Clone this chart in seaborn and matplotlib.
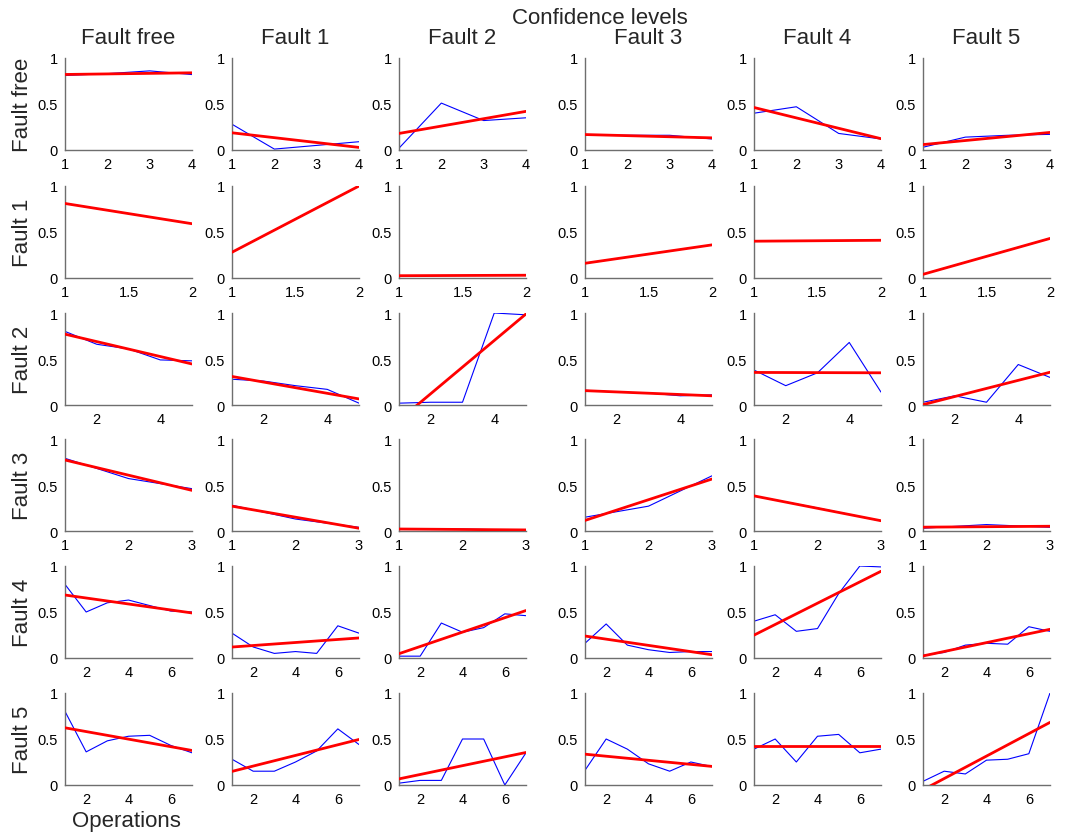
import matplotlib
matplotlib.use("Agg")
import matplotlib.pyplot as plt
import seaborn as sns
import numpy as np
import pandas as pd

sns.set_style("white")
plt.rcParams['font.family'] = ['Liberation Sans', 'DejaVu Sans']

col_names = ["Fault free", "Fault 1", "Fault 2", "Fault 3", "Fault 4", "Fault 5"]
row_names = ["Fault free", "Fault 1", "Fault 2", "Fault 3", "Fault 4", "Fault 5"]

# confidence levels per operation: rows = true condition, columns = class
row_fault_free = [
    [0.81, 0.83, 0.86, 0.82],
    [0.28, 0.01, 0.05, 0.09],
    [0.02, 0.51, 0.32, 0.35],
    [0.16, 0.16, 0.16, 0.12],
    [0.40, 0.47, 0.18, 0.12],
    [0.03, 0.14, 0.16, 0.17],
]
row_fault1 = [
    [0.81, 0.59],
    [0.28, 1.00],
    [0.025, 0.03],
    [0.16, 0.36],
    [0.40, 0.41],
    [0.04, 0.43],
]
row_fault2 = [
    [0.80, 0.66, 0.61, 0.49, 0.48],
    [0.28, 0.26, 0.21, 0.17, 0.02],
    [0.02, 0.03, 0.03, 1.00, 0.98],
    [0.16, 0.14, 0.13, 0.10, 0.11],
    [0.38, 0.21, 0.35, 0.68, 0.14],
    [0.03, 0.10, 0.03, 0.44, 0.30],
]
row_fault3 = [
    [0.79, 0.57, 0.46],
    [0.28, 0.13, 0.04],
    [0.02, 0.02, 0.01],
    [0.15, 0.27, 0.60],
    [0.38, 0.25, 0.11],
    [0.03, 0.07, 0.04],
]
row_fault4 = [
    [0.80, 0.50, 0.60, 0.63, 0.57, 0.51, 0.50],
    [0.27, 0.12, 0.05, 0.07, 0.05, 0.35, 0.27],
    [0.02, 0.02, 0.38, 0.28, 0.33, 0.48, 0.46],
    [0.16, 0.37, 0.14, 0.09, 0.06, 0.07, 0.07],
    [0.40, 0.47, 0.29, 0.32, 0.70, 1.00, 0.99],
    [0.03, 0.06, 0.14, 0.16, 0.15, 0.34, 0.29],
]
row_fault5 = [
    [0.80, 0.36, 0.48, 0.53, 0.54, 0.43, 0.35],
    [0.28, 0.15, 0.15, 0.25, 0.37, 0.61, 0.44],
    [0.02, 0.05, 0.05, 0.50, 0.50, 0.00, 0.35],
    [0.16, 0.50, 0.39, 0.23, 0.15, 0.25, 0.20],
    [0.39, 0.50, 0.25, 0.53, 0.55, 0.35, 0.39],
    [0.04, 0.15, 0.12, 0.27, 0.28, 0.34, 1.00],
]
rows_data = [row_fault_free, row_fault1, row_fault2, row_fault3, row_fault4, row_fault5]

x_ticks = [[1, 2, 3, 4], [1, 1.5, 2], [2, 4], [1, 2, 3], [2, 4, 6], [2, 4, 6]]
x_ticklabels = [["1", "2", "3", "4"], ["1", "1.5", "2"], ["2", "4"], ["1", "2", "3"],
                ["2", "4", "6"], ["2", "4", "6"]]
y_ticks = [0, 0.5, 1]
y_ticklabels = ["0", "0.5", "1"]

W, H = 1066, 837
fig = plt.figure(figsize=(W / 100, H / 100), dpi=100)

col_left = [65, 232, 399, 585, 754, 923]
row_top = [59, 187, 314, 440, 567, 694]
aw, ah = 127, 92
spine_col = "#6e6e6e"

for r in range(6):
    for c in range(6):
        L, T = col_left[c], row_top[r]
        ax = fig.add_axes([L / W, 1 - (T + ah) / H, aw / W, ah / H])
        y = rows_data[r][c]
        x = np.arange(1, len(y) + 1)
        df = pd.DataFrame({"x": x, "y": y})
        sns.lineplot(data=df, x="x", y="y", ax=ax, color="#0000ff", lw=0.8,
                     estimator=None, zorder=2)
        sns.regplot(data=df, x="x", y="y", ax=ax, scatter=False, ci=None,
                    color="#ff0000", line_kws={"lw": 2.0, "zorder": 3})
        ax.set_xlim(1, len(y))
        ax.set_ylim(0, 1)
        ax.set_xticks(x_ticks[r])
        ax.set_xticklabels(x_ticklabels[r])
        ax.set_yticks(y_ticks)
        ax.set_yticklabels(y_ticklabels)
        ax.set_xlabel("")
        ax.set_ylabel("")
        for s in ["top", "right"]:
            ax.spines[s].set_visible(False)
        for s in ["left", "bottom"]:
            ax.spines[s].set_color(spine_col)
            ax.spines[s].set_linewidth(1.0)
        ax.tick_params(axis="both", length=0, labelsize=10.5, colors="black")
        ax.tick_params(axis="y", pad=5)
        ax.tick_params(axis="x", pad=5)
        ax.set_facecolor("white")

for c in range(6):
    fig.text((col_left[c] + aw / 2) / W, 1 - 38 / H, col_names[c],
             ha="center", va="center", fontsize=16)
for r in range(6):
    fig.text(23 / W, 1 - (row_top[r] + ah / 2) / H, row_names[r],
             ha="center", va="center", rotation=90, fontsize=16)

fig.text(600 / W, 1 - 19 / H, "Confidence levels", ha="center", va="center", fontsize=16)
fig.text(126 / W, 1 - 822 / H, "Operations", ha="center", va="center", fontsize=16)

fig.savefig("out.png", dpi=100, facecolor="white")
